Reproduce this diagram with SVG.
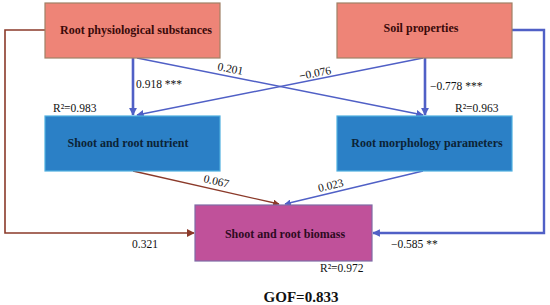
<svg xmlns="http://www.w3.org/2000/svg" width="550" height="305" viewBox="0 0 550 305" font-family="Liberation Serif, Times New Roman, serif">
<defs>
<style>
.box{stroke-width:1.2}
.t{font-weight:bold;font-size:12px;text-anchor:middle}
.l{font-size:11.5px;fill:#111}
.blue{stroke:#5060C6;fill:none}
.brown{stroke:#8B3A2A;fill:none}
</style>
<marker id="ab" viewBox="0 0 10 10" refX="9" refY="5" markerWidth="3.2" markerHeight="3.2" orient="auto" markerUnits="strokeWidth"><path d="M0,0L10,5L0,10z" fill="#5060C6"/></marker>
<marker id="abt" viewBox="0 0 10 10" refX="9" refY="5" markerWidth="5" markerHeight="5" orient="auto" markerUnits="strokeWidth"><path d="M0,0L10,5L0,10z" fill="#5060C6"/></marker>
<marker id="ar" viewBox="0 0 10 10" refX="9" refY="5" markerWidth="5" markerHeight="5" orient="auto" markerUnits="strokeWidth"><path d="M0,0L10,5L0,10z" fill="#8B3A2A"/></marker>
</defs>
<g id="connectors">
<path class="brown" d="M45,30H5V233H194" stroke-width="1.6" marker-end="url(#ar)"/>
<path class="blue" d="M512,30H544V233H373" stroke-width="2.4" marker-end="url(#ab)"/>
<line class="blue" x1="133" y1="58" x2="133" y2="115" stroke-width="2.6" marker-end="url(#ab)"/>
<line class="blue" x1="425" y1="58" x2="425" y2="115" stroke-width="2.6" marker-end="url(#ab)"/>
<line class="blue" x1="137" y1="58" x2="423" y2="115" stroke-width="1.5" marker-end="url(#abt)"/>
<line class="blue" x1="423" y1="58" x2="137" y2="115" stroke-width="1.5" marker-end="url(#abt)"/>
<line class="brown" x1="133" y1="171" x2="279" y2="204" stroke-width="1.3" marker-end="url(#ar)"/>
<line class="blue" x1="423" y1="171" x2="285" y2="204" stroke-width="1.3" marker-end="url(#abt)"/>
<text class="l" x="136" y="88">0.918 ***</text>
<text class="l" x="430" y="90">−0.778 ***</text>
<text class="l" transform="translate(217,70) rotate(11)">0.201</text>
<text class="l" transform="translate(300,80) rotate(-11)">−0.076</text>
<text class="l" transform="translate(203,182) rotate(13)">0.067</text>
<text class="l" transform="translate(319,192) rotate(-13)">0.023</text>
<text class="l" x="132" y="248">0.321</text>
<text class="l" x="391" y="248">−0.585 **</text>
</g>
<g id="n1">
<rect class="box" x="45" y="3" width="175" height="55" fill="#EE8477" stroke="#A08066"/>
<text class="t" x="136" y="34" fill="#3A0A0A">Root physiological substances</text>
</g>
<g id="n2">
<rect class="box" x="337" y="3" width="175" height="55" fill="#EE8477" stroke="#A08066"/>
<text class="t" x="421" y="32" fill="#3A0A0A">Soil properties</text>
</g>
<g id="n3">
<rect class="box" x="45" y="116" width="175" height="55" fill="#2B80C6" stroke="#4FB0E0"/>
<text class="t" x="128" y="147" fill="#0C2336">Shoot and root nutrient</text>
</g>
<g id="n4">
<rect class="box" x="337" y="116" width="175" height="55" fill="#2B80C6" stroke="#4FB0E0"/>
<text class="t" x="427" y="147" fill="#0C2336">Root morphology parameters</text>
</g>
<g id="n5">
<rect class="box" x="195" y="205" width="177" height="56" fill="#C0519A" stroke="#7F6BA6"/>
<text class="t" x="285" y="238" fill="#2E0A22">Shoot and root biomass</text>
</g>
<g id="labels">
<text class="l" x="53" y="112">R²=0.983</text>
<text class="l" x="455" y="112">R²=0.963</text>
<text class="l" x="320" y="272">R²=0.972</text>
<text x="301" y="302" font-weight="bold" font-size="15" text-anchor="middle" fill="#111">GOF=0.833</text>
</g>
</svg>
